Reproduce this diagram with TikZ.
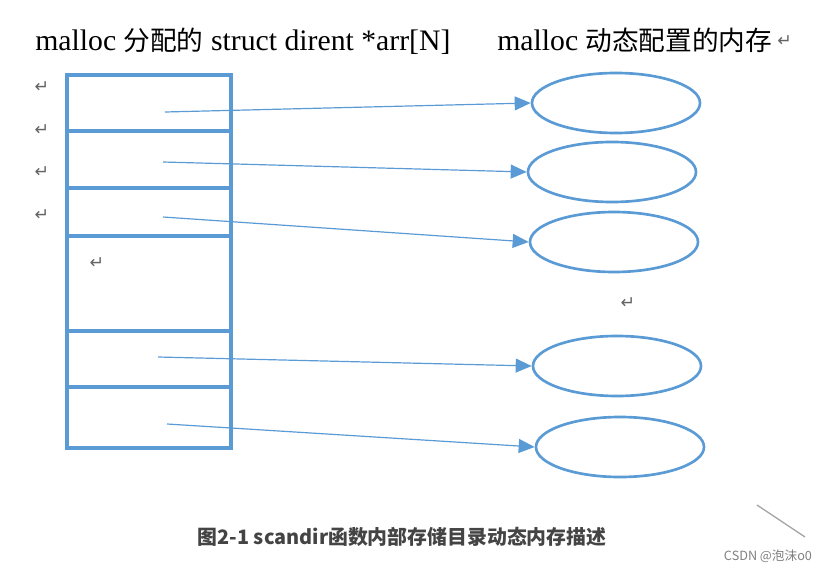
\documentclass[tikz,border=0pt]{standalone}
\usepackage{fontspec}
\setmainfont{Liberation Serif}
\newfontfamily\cjk{Noto Sans CJK SC}
\newfontfamily\symfont{DejaVu Sans}
\usepackage{xcolor}
\usetikzlibrary{arrows.meta, shapes.geometric, positioning}
\definecolor{wordblue}{RGB}{91, 155, 213}
\definecolor{markgray}{RGB}{100, 100, 100}
\definecolor{capgray}{RGB}{68, 68, 68}
\newcommand{\hz}[1]{{\cjk\fontsize{20}{24}\selectfont #1}}

\begin{document}
\begin{tikzpicture}[x=0.75pt, y=-0.75pt,
        cell/.style={draw=wordblue, line width=2.4pt, minimum width=123pt,
                     inner sep=0pt, outer sep=0pt, anchor=north west},
        blob/.style={draw=wordblue, line width=2pt, ellipse, inner sep=0pt,
                     minimum width=126pt, minimum height=45pt},
        link/.style={wordblue, line width=0.9pt,
                     -{Triangle[length=12pt, width=10.5pt]}},
        head/.style={anchor=base west, inner sep=0pt,
                     font=\fontsize{22.3}{26}\selectfont},
        retmark/.style={font=\symfont\fontsize{13}{13}\selectfont, text=markgray}]
    \useasboundingbox (0,0) rectangle (828,574);

    % headings
    \node[head] (lefthead) at (35,51) {malloc \hz{分配的} struct dirent *arr[N]};
    \node[head] (righthead) at (497,51) {malloc \hz{动态配置的内存}};
    \node[retmark, right=0pt of righthead] {↵};

    % the array of pointers
    \node[cell, minimum height=42pt] (c1) at (67,75) {};
    \node[cell, minimum height=42.75pt, below=0pt of c1] (c2) {};
    \node[cell, minimum height=36pt, below=0pt of c2] (c3) {};
    \node[cell, minimum height=71.25pt, below=0pt of c3] (c4) {};
    \node[cell, minimum height=42pt, below=0pt of c4] (c5) {};
    \node[cell, minimum height=45.75pt, below=0pt of c5] (c6) {};

    \coordinate (p1) at (165,112);
    \coordinate (p2) at (163,162);
    \coordinate (p3) at (163,217);
    \coordinate (p5) at (158,357);
    \coordinate (p6) at (167,424);

    % allocated memory
    \node[blob] (m1) at (616,103) {};
    \node[blob] (m2) at (612,172) {};
    \node[blob] (m3) at (614,242) {};
    \node[blob] (m5) at (617,366) {};
    \node[blob] (m6) at (620,447) {};

    \foreach \i in {1,2,3,5,6}
        \draw[link] (p\i) -- (m\i.west);

    % paragraph marks
    \foreach \y [count=\k] in {87,130,172,215}
        \node[retmark] (r\k) at (42,\y) {↵};
    \node[retmark] (r5) at (97,263) {↵};
    \node[retmark] (r6) at (628,303) {↵};

    \coordinate (s1) at (757,505);
    \coordinate (s2) at (805,537);
    \draw[gray!70, line width=1pt] (s1) -- (s2);

    \node[font=\cjk\bfseries\fontsize{14.9}{17}\selectfont, text=capgray]
        (caption) at (402,537) {图2-1 scandir函数内部存储目录动态内存描述};
    \node[font=\cjk\fontsize{9.5}{11}\selectfont, text=gray]
        (mark) at (768,556) {CSDN @泡沫o0};
\end{tikzpicture}
\end{document}
